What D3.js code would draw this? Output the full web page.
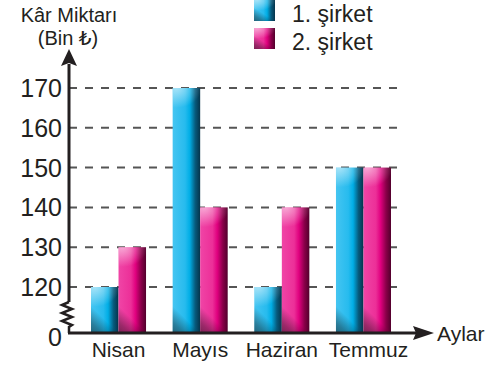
<!DOCTYPE html>
<html>
<head>
<meta charset="utf-8">
<script src="https://cdn.jsdelivr.net/npm/d3@7/dist/d3.min.js"></script>
<style>
  html, body { margin: 0; padding: 0; background: #fff; }
  svg { display: block; }
  text { font-family: "Liberation Sans", "DejaVu Sans", sans-serif; fill: #231f20; }
</style>
</head>
<body>
<svg id="chart" width="500" height="367"></svg>
<script>
// Monthly profit of two companies (thousand ₺)
const months = ["Nisan", "Mayıs", "Haziran", "Temmuz"];
const sirket1 = [120, 170, 120, 150];
const sirket2 = [130, 140, 140, 150];
const seriesNames = ["1. şirket", "2. şirket"];
const yTicks = [0, 120, 130, 140, 150, 160, 170];
const gridTicks = [120, 130, 140, 150, 160, 170];

const svg = d3.select("#chart");
const ink = "#231f20";

// Broken axis: 0 sits just below 120, then 120..170 is linear
const y = d3.scaleLinear().domain([0, 120, 170]).range([333, 287, 88]);
const x0 = d3.scaleBand().domain(months).range([91, 391]).paddingInner(0.326).paddingOuter(0);
const x1 = d3.scaleBand().domain([0, 1]).range([0, x0.bandwidth()]);

// Gradients
const defs = svg.append("defs");
function hGrad(id, stops) {
  const g = defs.append("linearGradient").attr("id", id)
    .attr("x1", 0).attr("y1", 0).attr("x2", 1).attr("y2", 0);
  stops.forEach(s => g.append("stop").attr("offset", s[0]).attr("stop-color", s[1]));
}
hGrad("gBlue", [[0, "#45c5f1"], [0.45, "#27bbee"], [0.62, "#00aee6"], [0.82, "#075a7c"], [1, "#05334a"]]);
hGrad("gPink", [[0, "#f045a6"], [0.45, "#ec2f98"], [0.62, "#e0007f"], [0.82, "#8a0049"], [1, "#52002c"]]);

const hl = defs.append("radialGradient").attr("id", "gHigh")
  .attr("cx", 0.15).attr("cy", 0).attr("r", 0.9);
hl.append("stop").attr("offset", 0).attr("stop-color", "#fff").attr("stop-opacity", 0.55);
hl.append("stop").attr("offset", 1).attr("stop-color", "#fff").attr("stop-opacity", 0);

const sh = defs.append("linearGradient").attr("id", "gShade")
  .attr("x1", 0.9).attr("y1", 0).attr("x2", 0).attr("y2", 1);
sh.append("stop").attr("offset", 0).attr("stop-color", "#000").attr("stop-opacity", 0);
sh.append("stop").attr("offset", 0.5).attr("stop-color", "#000").attr("stop-opacity", 0);
sh.append("stop").attr("offset", 0.8).attr("stop-color", "#000").attr("stop-opacity", 0.35);
sh.append("stop").attr("offset", 1).attr("stop-color", "#000").attr("stop-opacity", 0.5);

// Dashed gridlines
svg.append("g").selectAll("line").data(gridTicks).join("line")
  .attr("x1", 69).attr("x2", 400)
  .attr("y1", d => y(d)).attr("y2", d => y(d))
  .attr("stroke", "#555").attr("stroke-width", 2)
  .attr("stroke-dasharray", "8,8");

// Bars
const rows = months.map((m, i) => ({ month: m, values: [sirket1[i], sirket2[i]] }));
const fills = ["url(#gBlue)", "url(#gPink)"];
const groups = svg.append("g").selectAll("g").data(rows).join("g")
  .attr("transform", d => `translate(${x0(d.month)},0)`);
const bars = groups.selectAll("g").data(d => d.values.map((v, k) => ({ v, k }))).join("g");
bars.append("rect")
  .attr("x", d => x1(d.k)).attr("width", x1.bandwidth())
  .attr("y", d => y(d.v)).attr("height", d => y(0) - y(d.v))
  .attr("fill", d => fills[d.k]);
bars.append("rect")
  .attr("x", d => x1(d.k)).attr("width", x1.bandwidth())
  .attr("y", d => y(d.v)).attr("height", d => Math.min(22, y(0) - y(d.v)))
  .attr("fill", "url(#gHigh)");
bars.append("rect")
  .attr("x", d => x1(d.k)).attr("width", x1.bandwidth())
  .attr("y", d => y(0) - 30).attr("height", 30)
  .attr("fill", "url(#gShade)");

// Axes
const axis = svg.append("g").attr("stroke", ink).attr("fill", "none").attr("stroke-width", 3);
const yBreakTop = 302, yBreakBot = 327;
axis.append("path").attr("d", `M69,64 V${yBreakTop}`);
axis.append("path").attr("stroke-width", 2.5).attr("d",
  `M69,${yBreakTop} L62,305 L72,309 L62,313 L72,317 L62,321 L72,325 L69,${yBreakBot} V${y(0)}`);
axis.append("path").attr("d", `M68,${y(0)} H418`);
// arrowheads
svg.append("path").attr("fill", ink)
  .attr("d", "M69,49 L77,66 L69,63 L61,66 Z");
svg.append("path").attr("fill", ink)
  .attr("d", `M434,${y(0)} L413,${y(0) - 7} L416,${y(0)} L413,${y(0) + 7} Z`);

// Y tick labels
svg.append("g").selectAll("text").data(yTicks).join("text")
  .attr("x", 62).attr("y", d => y(d) + (d === 0 ? 4 : 0))
  .attr("text-anchor", "end").attr("dominant-baseline", "central")
  .attr("font-size", 25).text(d => d);

// X labels (last one nudged right to clear its neighbour)
svg.append("g").selectAll("text").data(months).join("text")
  .attr("x", (d, i) => x0(d) + x0.bandwidth() / 2 + (i === months.length - 1 ? 5 : 0))
  .attr("y", 357)
  .attr("text-anchor", "middle").attr("font-size", 21).text(d => d);

svg.append("text").attr("x", 437).attr("y", 341).attr("font-size", 21).text("Aylar");

// Y axis title
svg.append("text").attr("x", 69).attr("y", 22).attr("text-anchor", "middle")
  .attr("font-size", 20).text("Kâr Miktarı");
svg.append("text").attr("x", 68).attr("y", 45).attr("text-anchor", "middle")
  .attr("font-size", 20).text("(Bin ₺)");

// Legend
const legend = svg.append("g").selectAll("g").data(seriesNames).join("g")
  .attr("transform", (d, i) => `translate(254,${i * 28})`);
legend.append("rect").attr("x", 0).attr("y", 0).attr("width", 21).attr("height", 21)
  .attr("fill", (d, i) => fills[i]);
legend.append("rect").attr("x", 0).attr("y", 0).attr("width", 21).attr("height", 12)
  .attr("fill", "url(#gHigh)");
legend.append("rect").attr("x", 0).attr("y", 6).attr("width", 21).attr("height", 15)
  .attr("fill", "url(#gShade)");
legend.append("text").attr("x", 38).attr("y", 21.5).attr("font-size", 23).text(d => d);
</script>
</body>
</html>
